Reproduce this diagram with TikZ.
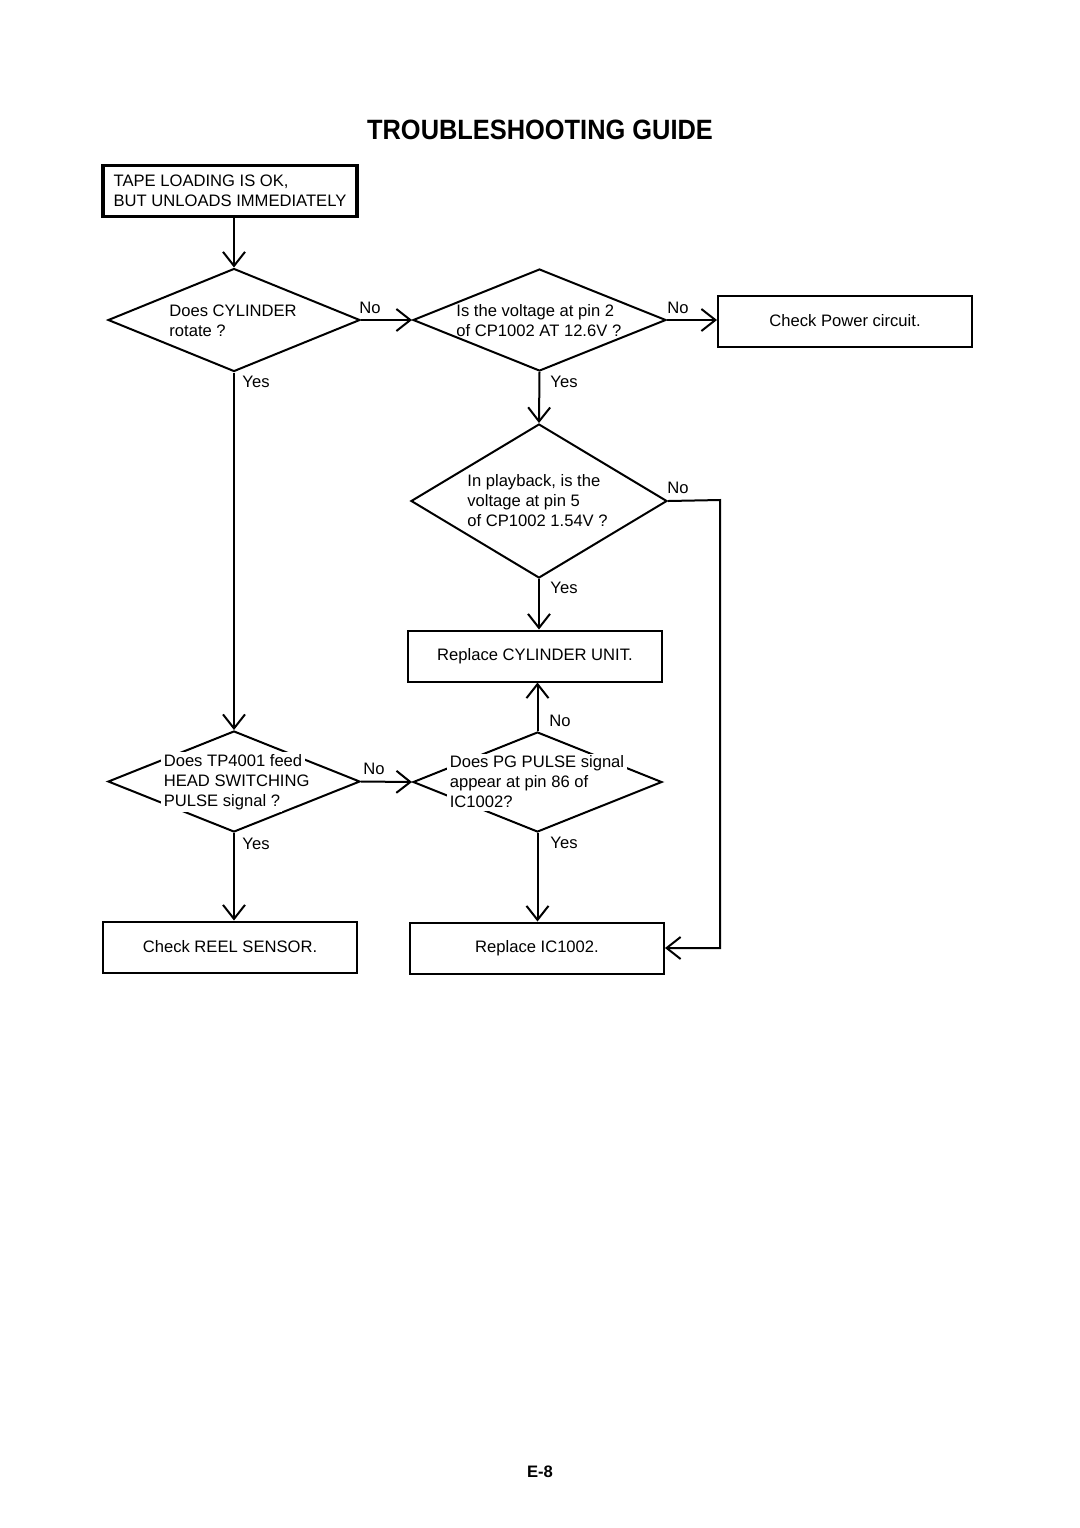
\documentclass[tikz,border=0pt]{standalone}
\usepackage{fontspec}
\setmainfont{Liberation Sans}
\usetikzlibrary{shapes.geometric,arrows.meta}
\newcommand\wline[1]{{\setlength{\fboxsep}{1.2pt}\colorbox{white}{#1}}}
\begin{document}
\begin{tikzpicture}[x=0.5pt,y=-0.5pt,
  every node/.style={font=\fontsize{8.3}{10}\selectfont, inner sep=0pt},
  box/.style={draw, line width=1pt, minimum width=127pt, minimum height=25.5pt, align=center},
  dia/.style={draw, diamond, line width=1pt, inner sep=0pt},
  dtext/.style={anchor=west, align=left, execute at begin node={\lineskiplimit=-20pt\lineskip=0pt}},
  arr/.style={line width=1pt, -{Straight Barb[length=7pt,width=11pt,line width=1pt]}}
]
\useasboundingbox (0,0) rectangle (1080,1528);

\node (title) at (540,130) {\scalebox{1}[1.1]{\fontsize{12.7}{14}\selectfont\bfseries TROUBLESHOOTING GUIDE}};

% start box
\node[draw, line width=1.8pt, minimum width=127pt, minimum height=25.5pt, align=left] (start) at (230,191)
  {TAPE LOADING IS OK,\\BUT UNLOADS IMMEDIATELY};

% diamonds
\node[dia, minimum width=126pt, minimum height=51.5pt] (d1) at (234,320) {};
\node[dtext] (d1t) at (169,321) {Does CYLINDER\\rotate ?};

\node[dia, minimum width=126.5pt, minimum height=51pt] (d2) at (539.5,320) {};
\node[dtext] (d2t) at (456,321) {Is the voltage at pin 2\\of CP1002 AT 12.6V ?};

\node[box] (pw) at (845,321) {Check Power circuit.};

\node[dia, minimum width=128pt, minimum height=77pt] (d4) at (539,501) {};
\node[dtext] (d4t) at (467,501) {In playback, is the\\voltage at pin 5\\of CP1002 1.54V ?};

\node[box] (cyl) at (535,656) {Replace CYLINDER UNIT.};

\node[dia, minimum width=126pt, minimum height=50.5pt] (d5) at (234,781.5) {};
\node[dtext] (d5t) at (161,782) {\wline{Does TP4001 feed}\\\wline{HEAD SWITCHING}\\\wline{PULSE signal ?}};

\node[dia, minimum width=124.5pt, minimum height=50pt] (d6) at (537.5,782) {};
\node[dtext] (d6t) at (447,782) {\wline{Does PG PULSE signal}\\\wline{appear at pin 86 of}\\\wline{IC1002?}};

\node[box] (reel) at (230,947) {Check REEL SENSOR.};
\node[box] (ic) at (537,948) {Replace IC1002.};

\node (page) at (540,1472) {\bfseries E-8};

% connectors
\draw[arr] (d1.north |- start.south) -- (d1.north);
\draw[arr] (d1.east) -- (d2.west);
\node (n1) at (370,308) {No};
\draw[arr] (d2.east) -- (d2.east -| pw.west);
\node (n2) at (678,308) {No};

\draw[arr] (d1.south) -- (d5.north);
\node (y1) at (256,382) {Yes};

\draw[arr] (d2.south) -- (d4.north);
\node (y2) at (564,382) {Yes};

\draw[arr] (d4.south) -- (d4.south |- cyl.north);
\node (y3) at (564,588) {Yes};

\coordinate (rc) at (720,500);
\draw[arr] (d4.east) -- (rc) |- (ic.east);
\node (n3) at (678,488) {No};

\draw[arr] (d6.north) -- (d6.north |- cyl.south);
\node (n4) at (560,721) {No};

\draw[arr] (d5.east) -- (d6.west);
\node (n5) at (374,769) {No};

\draw[arr] (d5.south) -- (d5.south |- reel.north);
\node (y4) at (256,844) {Yes};

\draw[arr] (d6.south) -- (d6.south |- ic.north);
\node (y5) at (564,843) {Yes};
\end{tikzpicture}
\end{document}
